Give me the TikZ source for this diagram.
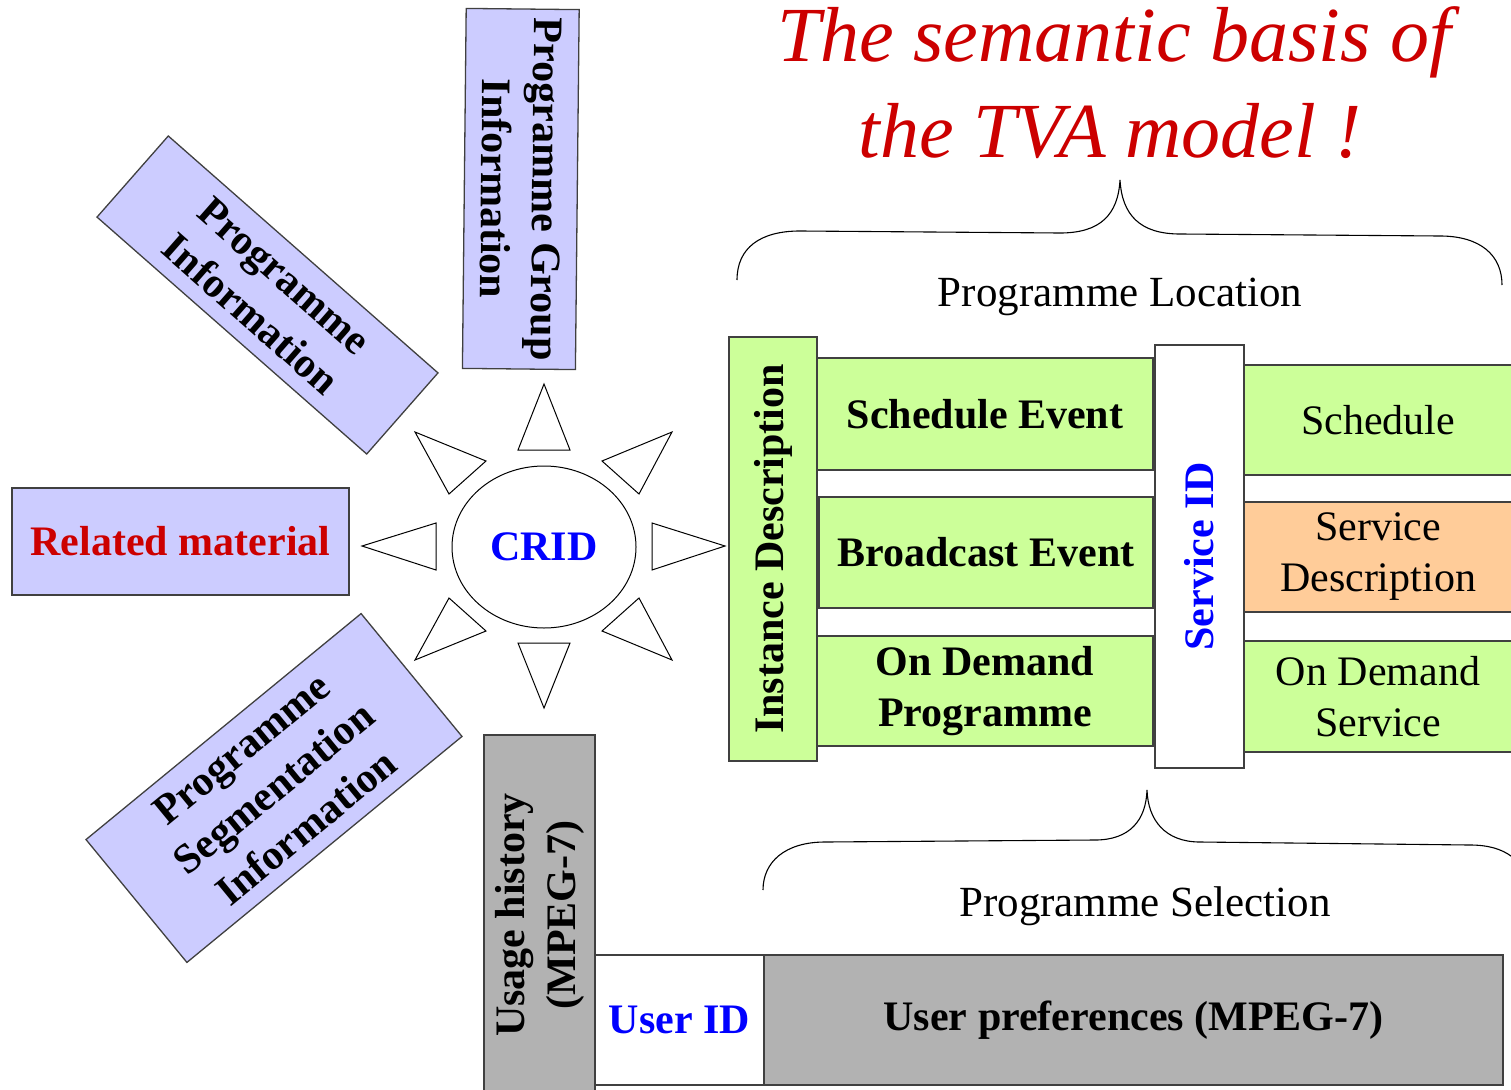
\documentclass[tikz,border=0pt]{standalone}
\usepackage{fontspec}
\setmainfont{Liberation Serif}
\usetikzlibrary{shapes.geometric}
\definecolor{lav}{HTML}{CCCCFF}
\definecolor{lgreen}{HTML}{CCFF99}
\definecolor{peach}{HTML}{FFCC99}
\definecolor{gbox}{HTML}{B2B2B2}
\definecolor{bordc}{HTML}{404040}
\definecolor{dred}{HTML}{CC0000}
\tikzset{
  bx/.style={draw=bordc, line width=1.3pt, inner sep=0pt, align=center,
    font=\bfseries\fontsize{42}{51}\selectfont},
  bxn/.style={bx, font=\fontsize{42}{51}\selectfont},
  tri/.style={draw=black, line width=1pt, line join=miter},
  brace/.style={draw=black, line width=1.1pt},
  bracetxt/.style={inner sep=0pt, font=\fontsize{43}{51}\selectfont},
  titletxt/.style={inner sep=0pt, anchor=base, text=dred, font=\itshape\fontsize{78}{95}\selectfont}
}
\begin{document}
\begin{tikzpicture}[x=1pt,y=-1pt]
\useasboundingbox (0,0) rectangle (1511,1089);
\clip (0,0) rectangle (1511,1089);
% title
\node[titletxt] (t1) at (1114,62) {The semantic basis of};
\node[titletxt] (t2) at (1110,157) {the TVA model !};
% left cluster
\node[bx, fill=lav, rotate=-90.6, minimum width=360pt, minimum height=113pt] (pgi) at (520.8,189) {Programme Group\\Information};
\node[bx, fill=lav, rotate=-41.3, minimum width=359pt, minimum height=108pt] (pi) at (267.5,295) {Programme\\Information};
\node[bx, fill=lav, rotate=39.4, minimum width=356pt, minimum height=159pt] (psi) at (274,788) {Programme\\Segmentation\\Information};
\node[bx, fill=lav, text=dred, minimum width=337pt, minimum height=107pt] (rm) at (180.5,541.5) {Related material};
\node[bx, draw=black, line width=1pt, ellipse, text=blue, minimum width=184pt, minimum height=162pt] (crid) at (544,547) {CRID};
% triangles
\draw[tri] (544,384) -- (570,450) -- (518,450) -- cycle;
\draw[tri] (544,708) -- (570,643) -- (518,643) -- cycle;
\draw[tri] (362,546) -- (436,523) -- (436,570) -- cycle;
\draw[tri] (725,546) -- (652,523) -- (652,570) -- cycle;
\draw[tri] (415,432) -- (486,461) -- (449,494) -- cycle;
\draw[tri] (672,432) -- (602,461) -- (639,494) -- cycle;
\draw[tri] (415,660) -- (486,631) -- (449,598) -- cycle;
\draw[tri] (672,660) -- (602,631) -- (639,598) -- cycle;
% location block
\node[bx, fill=lgreen, rotate=90, minimum width=424pt, minimum height=88pt] (inst) at (773,549) {Instance Description};
\node[bx, fill=lgreen, minimum width=336pt, minimum height=112pt] (se) at (985,414) {Schedule Event};
\node[bx, fill=lgreen, minimum width=334pt, minimum height=111pt] (be) at (986,552.5) {Broadcast Event};
\node[bx, fill=lgreen, minimum width=336pt, minimum height=110pt] (odp) at (985,691) {On Demand\\Programme};
\node[bx, fill=white, text=blue, rotate=90, minimum width=423pt, minimum height=89pt] (sid) at (1199.5,556.5) {Service ID};
\node[bxn, fill=lgreen, minimum width=268pt, minimum height=110pt] (sch) at (1378,420) {Schedule};
\node[bxn, fill=peach, minimum width=268pt, minimum height=110pt] (sd) at (1378,557) {Service\\Description};
\node[bxn, fill=lgreen, minimum width=268pt, minimum height=111pt] (ods) at (1378,696.5) {On Demand\\Service};
% braces
\draw[brace] (737,280) .. controls (737,248) and (760,231) .. (800,231) -- (1060,233)
  .. controls (1100,233) and (1118,215) .. (1120,180)
  .. controls (1122,215) and (1140,234) .. (1180,234) -- (1440,236)
  .. controls (1480,236) and (1502,255) .. (1502,285);
\node[bracetxt] (ploc) at (1120,297) {Programme Location};
\draw[brace] (763,890) .. controls (763,862) and (785,842) .. (825,842) -- (1095,840)
  .. controls (1130,840) and (1146,820) .. (1147,790)
  .. controls (1148,820) and (1165,842) .. (1200,842) -- (1470,845)
  .. controls (1505,845) and (1525,860) .. (1530,890);
\node[bracetxt] (psel) at (1145,906) {Programme Selection};
% user block
\node[bx, fill=gbox, rotate=90, minimum width=360pt, minimum height=111pt] (uh) at (539.5,915) {Usage history\\(MPEG-7)};
\node[bx, fill=white, text=blue, minimum width=169pt, minimum height=130pt] (uid) at (679.5,1020) {User ID};
\node[bx, fill=gbox, minimum width=739pt, minimum height=130pt] (up) at (1133.5,1020) {User preferences (MPEG-7)};
\end{tikzpicture}
\end{document}
